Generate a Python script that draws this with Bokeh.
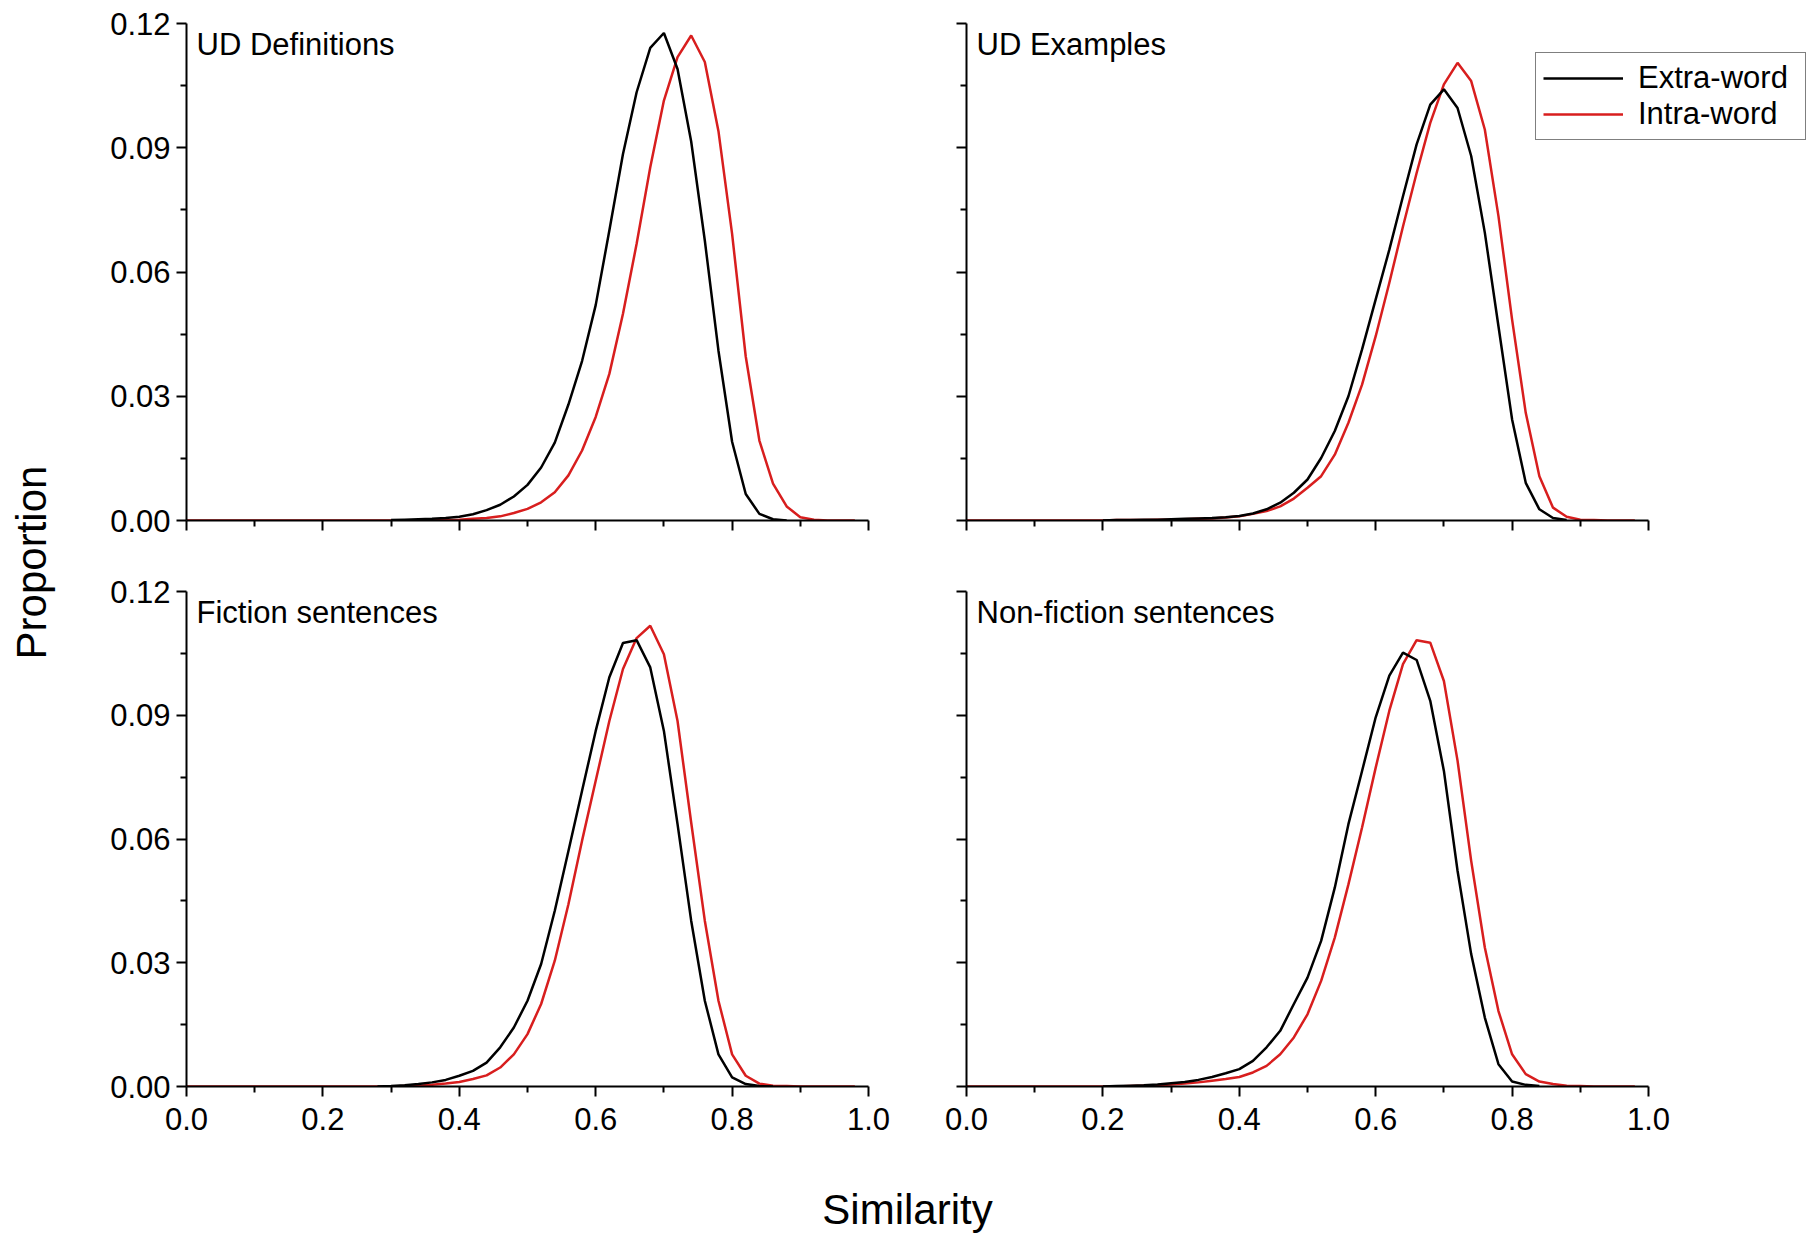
import math
from bokeh.plotting import figure
from bokeh.models import (Range1d, FixedTicker, Label, Legend, LegendItem)
from bokeh.layouts import row, column
from bokeh.embed import file_html
from bokeh.resources import INLINE

# ---------------- data ----------------
SIM = [0.00, 0.02, 0.04, 0.06, 0.08, 0.10, 0.12, 0.14, 0.16, 0.18,
       0.20, 0.22, 0.24, 0.26, 0.28, 0.30, 0.32, 0.34, 0.36, 0.38,
       0.40, 0.42, 0.44, 0.46, 0.48, 0.50, 0.52, 0.54, 0.56, 0.58,
       0.60, 0.62, 0.64, 0.66, 0.68, 0.70, 0.72, 0.74, 0.76, 0.78,
       0.80, 0.82, 0.84, 0.86, 0.88, 0.90, 0.92, 0.94, 0.96, 0.98]

PANELS = ["UD Definitions", "UD Examples", "Fiction sentences", "Non-fiction sentences"]
SERIES = ["Extra-word", "Intra-word"]

# UD Definitions
TL_EXTRA_X = SIM[15:45]
TL_EXTRA = [0.0001, 0.0002, 0.0003, 0.0004, 0.0006, 0.0009, 0.0015, 0.0025, 0.0038, 0.0058,
            0.0086, 0.0128, 0.0188, 0.0280, 0.0385, 0.0520, 0.0700, 0.0885, 0.1034, 0.1141,
            0.1177, 0.1090, 0.0915, 0.0676, 0.0410, 0.0190, 0.0064, 0.0016, 0.0003, 0.0000]
TL_INTRA = [0, 0, 0, 0, 0, 0, 0, 0, 0, 0,
            0, 0, 0, 0, 0, 0, 0, 0, 0, 0.0001,
            0.0002, 0.0004, 0.0006, 0.0010, 0.0018, 0.0028, 0.0044, 0.0068, 0.0109, 0.0169,
            0.0250, 0.0354, 0.0499, 0.0668, 0.0853, 0.1014, 0.1119, 0.1171, 0.1107, 0.0940,
            0.0692, 0.0396, 0.0193, 0.0089, 0.0034, 0.0008, 0.0002, 0.0000, 0.0000, 0.0000]

# UD Examples
TR_EXTRA_X = SIM[10:45]
TR_EXTRA = [0.0000, 0.0001, 0.0001, 0.0002, 0.0002, 0.0003, 0.0004, 0.0005, 0.0006, 0.0008,
            0.0011, 0.0017, 0.0027, 0.0043, 0.0067, 0.0099, 0.0151, 0.0216, 0.0300, 0.0413,
            0.0534, 0.0654, 0.0783, 0.0908, 0.1004, 0.1041, 0.0996, 0.0880, 0.0695, 0.0469,
            0.0244, 0.0091, 0.0027, 0.0006, 0.0001]
TR_INTRA = [0, 0, 0, 0, 0, 0, 0, 0, 0, 0,
            0, 0.0001, 0.0001, 0.0001, 0.0002, 0.0002, 0.0003, 0.0004, 0.0005, 0.0007,
            0.0010, 0.0016, 0.0023, 0.0034, 0.0053, 0.0079, 0.0107, 0.0159, 0.0236, 0.0328,
            0.0445, 0.0574, 0.0710, 0.0839, 0.0960, 0.1053, 0.1105, 0.1061, 0.0944, 0.0735,
            0.0485, 0.0260, 0.0107, 0.0031, 0.0009, 0.0002, 0.0001, 0.0000, 0.0000, 0.0000]

# Fiction sentences
BL_EXTRA_X = SIM[14:44]
BL_EXTRA = [0.0000, 0.0001, 0.0003, 0.0006, 0.0010, 0.0016,
            0.0026, 0.0038, 0.0058, 0.0095, 0.0143, 0.0208, 0.0297, 0.0426, 0.0571, 0.0717,
            0.0862, 0.0992, 0.1075, 0.1082, 0.1016, 0.0862, 0.0636, 0.0402, 0.0208, 0.0078,
            0.0022, 0.0006, 0.0001, 0.0000]
BL_INTRA = [0, 0, 0, 0, 0, 0, 0, 0, 0, 0,
            0, 0, 0, 0, 0, 0, 0.0001, 0.0002, 0.0004, 0.0007,
            0.0011, 0.0018, 0.0027, 0.0046, 0.0078, 0.0127, 0.0200, 0.0305, 0.0442, 0.0596,
            0.0741, 0.0886, 0.1012, 0.1087, 0.1117, 0.1048, 0.0886, 0.0640, 0.0402, 0.0208,
            0.0078, 0.0026, 0.0007, 0.0002, 0.0001, 0.0000, 0.0000, 0.0000, 0.0000, 0.0000]

# Non-fiction sentences
BR_EXTRA_X = SIM[10:43]
BR_EXTRA = [0.0000, 0.0001, 0.0002, 0.0003, 0.0005, 0.0008, 0.0011, 0.0016, 0.0023, 0.0032,
            0.0042, 0.0062, 0.0095, 0.0135, 0.0200, 0.0264, 0.0353, 0.0482, 0.0636, 0.0765,
            0.0895, 0.0996, 0.1052, 0.1034, 0.0935, 0.0765, 0.0523, 0.0321, 0.0167, 0.0054,
            0.0012, 0.0004, 0.0001]
BR_INTRA = [0, 0, 0, 0, 0, 0, 0, 0, 0, 0,
            0, 0, 0.0001, 0.0002, 0.0003, 0.0005, 0.0007, 0.0010, 0.0014, 0.0018,
            0.0023, 0.0034, 0.0050, 0.0078, 0.0119, 0.0175, 0.0256, 0.0361, 0.0490, 0.0628,
            0.0773, 0.0911, 0.1024, 0.1082, 0.1076, 0.0983, 0.0790, 0.0547, 0.0337, 0.0183,
            0.0078, 0.0030, 0.0012, 0.0006, 0.0002, 0.0001, 0.0000, 0.0000, 0.0000, 0.0000]

X_TICKS = [0.0, 0.2, 0.4, 0.6, 0.8, 1.0]
X_MINOR = [0.1, 0.3, 0.5, 0.7, 0.9]
X_LABELS = ["0.0", "0.2", "0.4", "0.6", "0.8", "1.0"]
Y_TICKS = [0.0, 0.03, 0.06, 0.09, 0.12]
Y_MINOR = [0.015, 0.045, 0.075, 0.105]
Y_LABELS = ["0.00", "0.03", "0.06", "0.09", "0.12"]

# ---------------- style ----------------
FONT = "Liberation Sans"
TICK_FS = "31px"
RED = "#d81e1e"
BLACK = "#000000"
FRAME_W = 682          # pixels for similarity 0..1
FRAME_W_TR = 843       # top-right frame widened so the legend fits (axis bounded to 0..1)


def make_panel(title, ex_x, ex_y, in_y, show_x, show_y, left, right, top, bottom,
               frame_h, frame_w=FRAME_W):
    p = figure(width=left + frame_w + right, height=top + frame_h + bottom,
               x_range=Range1d(0, frame_w / FRAME_W), y_range=Range1d(0, 0.12),
               output_backend="svg", toolbar_location=None,
               min_border_left=left, min_border_right=right,
               min_border_top=top, min_border_bottom=bottom)
    p.outline_line_color = None
    p.grid.visible = False
    p.background_fill_color = "white"
    p.border_fill_color = "white"

    r_in = p.line(SIM, in_y, line_color=RED, line_width=2.5)
    r_ex = p.line(ex_x, ex_y, line_color=BLACK, line_width=2.5)

    for ax, ticks, minor, labels, show in ((p.xaxis[0], X_TICKS, X_MINOR, X_LABELS, show_x),
                                           (p.yaxis[0], Y_TICKS, Y_MINOR, Y_LABELS, show_y)):
        ax.ticker = FixedTicker(ticks=ticks, minor_ticks=minor)
        ax.axis_line_width = 2
        ax.axis_line_color = BLACK
        ax.major_tick_line_width = 2
        ax.minor_tick_line_width = 2
        ax.major_tick_in = 0
        ax.major_tick_out = 10
        ax.minor_tick_in = 0
        ax.minor_tick_out = 6
        ax.major_label_text_font = FONT
        ax.major_label_text_font_size = TICK_FS
        ax.major_label_text_color = BLACK
        if show:
            ax.major_label_overrides = {t: l for t, l in zip(ticks, labels)}
        else:
            ax.major_label_overrides = {t: "" for t in ticks}
    p.xaxis[0].bounds = (0, 1)
    p.xaxis[0].major_label_standoff = 11
    p.yaxis[0].major_label_standoff = 6

    p.add_layout(Label(x=0, y=0.12, x_offset=10, y_offset=-21, text=title,
                       text_font=FONT, text_font_size="31px", text_color=BLACK,
                       text_align="left", text_baseline="middle"))
    return p, r_ex, r_in


TL, _, _ = make_panel(PANELS[0], TL_EXTRA_X, TL_EXTRA, TL_INTRA, False, True, 118, 30, 23, 56, 497)
TR, tr_ex, tr_in = make_panel(PANELS[1], TR_EXTRA_X, TR_EXTRA, TR_INTRA, False, False, 68, 0, 23, 56, 497,
                              frame_w=FRAME_W_TR)
BL, _, _ = make_panel(PANELS[2], BL_EXTRA_X, BL_EXTRA, BL_INTRA, True, True, 118, 30, 15, 84, 495)
BR, _, _ = make_panel(PANELS[3], BR_EXTRA_X, BR_EXTRA, BR_INTRA, True, False, 68, 161, 15, 84, 495)

legend = Legend(items=[LegendItem(label=SERIES[0], renderers=[tr_ex]),
                       LegendItem(label=SERIES[1], renderers=[tr_in])],
                location=(569, 380), orientation="vertical",
                label_text_font=FONT, label_text_font_size="31px", label_text_color=BLACK,
                glyph_width=80, glyph_height=34, label_height=34, label_standoff=15,
                label_width=160, padding=7, spacing=0, margin=0,
                border_line_color="#000000", border_line_width=1.5,
                background_fill_color="white", background_fill_alpha=1.0)
TR.add_layout(legend, "center")


def text_strip(w, h, txt, x, y, angle, baseline):
    f = figure(width=w, height=h, x_range=Range1d(0, w), y_range=Range1d(h, 0),
               x_axis_type=None, y_axis_type=None, output_backend="svg",
               toolbar_location=None, min_border=0)
    f.outline_line_color = None
    f.grid.visible = False
    f.add_layout(Label(x=x, y=y, text=txt, angle=angle, text_font=FONT,
                       text_font_size="42px", text_color=BLACK,
                       text_align="center", text_baseline=baseline))
    return f


ylab = text_strip(68, 1236, "Proportion", 31, 562, math.pi / 2, "middle")
xlab = text_strip(1741, 66, "Similarity", 839, 39, 0, "middle")

layout = row(ylab, column(row(TL, TR), row(BL, BR), xlab))

open("out.html", "w").write(file_html(layout, INLINE))
